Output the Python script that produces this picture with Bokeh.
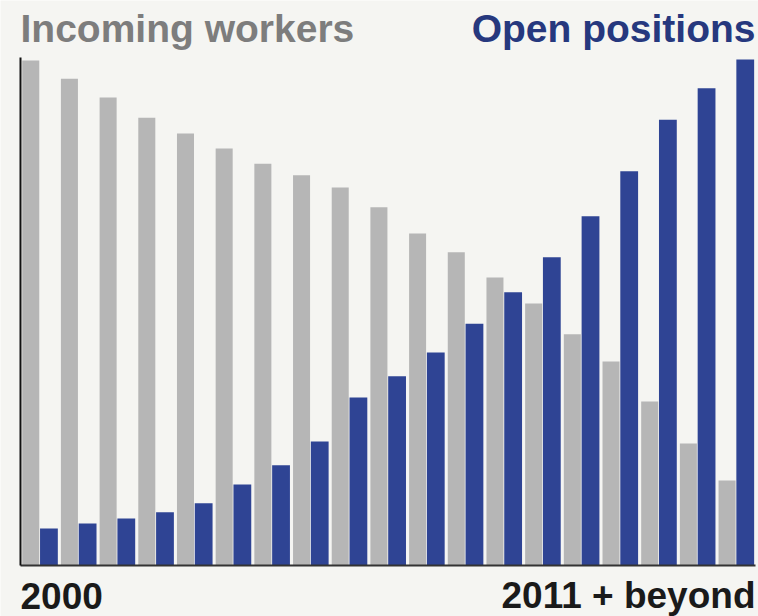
from bokeh.plotting import figure
from bokeh.models import ColumnDataSource, Label, Range1d
from bokeh.transform import dodge
from bokeh.embed import file_html
from bokeh.resources import INLINE

# ---- data (relative scale 0-100) ----
periods = list(range(19))
incoming_workers = [99.8, 96.2, 92.5, 88.5, 85.4, 82.4, 79.4, 77.1, 74.7, 70.8,
                    65.6, 61.9, 56.9, 51.8, 45.7, 40.3, 32.4, 24.1, 16.8]
open_positions = [7.3, 8.3, 9.3, 10.5, 12.3, 16.0, 19.8, 24.5, 33.2, 37.4,
                  42.1, 47.8, 54.0, 60.9, 69.0, 77.9, 88.1, 94.3, 100.0]
series_names = ["Incoming workers", "Open positions"]
tick_labels = ["2000", "2011 + beyond"]

BG = "#f5f5f2"
GRAY = "#b6b6b6"
BLUE = "#2f4494"
FONT = "Liberation Sans"

W, H = 758, 616
# plot-area placement inside the canvas (pixels)
left_px, right_px, top_px, bottom_px = 20, 755, 59, 565
x0, x1 = -0.5, len(periods) - 0.5
y0, y1 = 0.0, 100.0
ux = (right_px - left_px) / (x1 - x0)
uy = (bottom_px - top_px) / (y1 - y0)

src = ColumnDataSource(dict(x=periods, w=incoming_workers, o=open_positions))

p = figure(width=W, height=H, output_backend="svg", toolbar_location=None,
           x_range=Range1d(x0 - left_px / ux, x1 + (W - right_px) / ux),
           y_range=Range1d(y0 - (H - bottom_px) / uy, y1 + top_px / uy),
           min_border=0)
p.background_fill_color = BG
p.border_fill_color = BG
p.outline_line_color = None
p.grid.visible = False
p.axis.visible = False

p.vbar(x=dodge("x", -0.235, range=p.x_range), top="w", width=0.44, source=src,
       fill_color=GRAY, line_color=None)
p.vbar(x=dodge("x", 0.235, range=p.x_range), top="o", width=0.46, source=src,
       fill_color=BLUE, line_color=None)

# axis lines
p.segment(x0=[x0], y0=[y0], x1=[x1], y1=[y0], line_color="#333333", line_width=2)
p.segment(x0=[x0], y0=[y0], x1=[x0], y1=[y1 + 0.4], line_color="#111111", line_width=2)

title_y = y1 + (top_px - 28) / uy
label_y = y0 - (595 - bottom_px) / uy
p.add_layout(Label(x=x0, y=title_y, text=series_names[0], text_align="left",
                   text_baseline="alphabetic", text_font=FONT, text_font_style="bold",
                   text_font_size="39px", text_color="#7d7d7d"))
p.add_layout(Label(x=x1, y=title_y, text=series_names[1], text_align="right",
                   text_baseline="alphabetic", text_font=FONT, text_font_style="bold",
                   text_font_size="39px", text_color="#26387e"))
p.add_layout(Label(x=x0, y=label_y, text=tick_labels[0], text_align="left",
                   text_baseline="alphabetic", text_font=FONT, text_font_style="bold",
                   text_font_size="37px", text_color="#1a1a1a"))
p.add_layout(Label(x=x1, y=label_y, text=tick_labels[1], text_align="right",
                   text_baseline="alphabetic", text_font=FONT, text_font_style="bold",
                   text_font_size="37px", text_color="#1a1a1a"))

open("out.html", "w").write(file_html(p, INLINE))
